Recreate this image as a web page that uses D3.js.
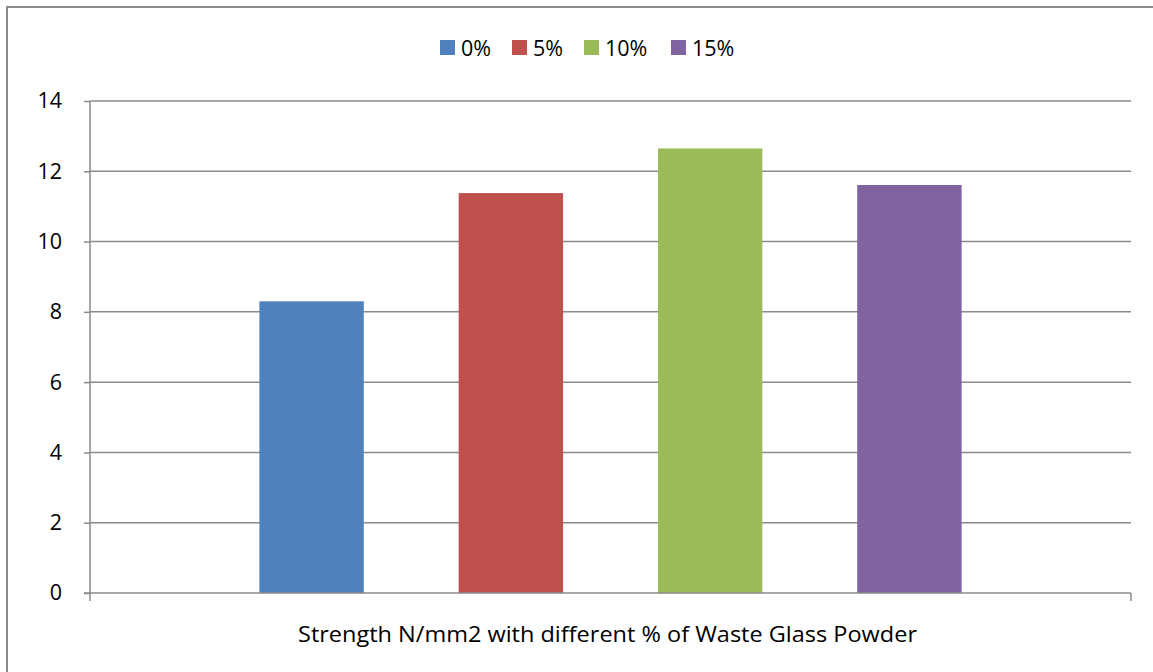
<!DOCTYPE html>
<html lang="en">
<head>
    <meta charset="UTF-8">
    <title>Strength with Waste Glass Powder</title>
    <script src="https://cdnjs.cloudflare.com/ajax/libs/d3/7.8.5/d3.min.js"></script>
    <style>
        body { margin: 0; background: #fff; }
        svg { display: block; font-family: "Open Sans", Lato, sans-serif; }
    </style>
</head>
<body>
<svg width="1153" height="672"></svg>
<script>
    // chart data
    const category = "Strength N/mm2 with different % of Waste Glass Powder";
    const series = ["0%", "5%", "10%", "15%"];
    const values = [8.3, 11.38, 12.65, 11.61];
    const colors = ["#4F81BD", "#C0504D", "#9BBB59", "#8064A2"];
    const yTicks = [0, 2, 4, 6, 8, 10, 12, 14];

    const svg = d3.select("svg");
    const plotLeft = 90, plotRight = 1131, plotTop = 101, plotBottom = 593;
    const fontSize = 21.5;

    // outer chart border (right/bottom edges fall outside the picture)
    svg.append("rect")
        .attr("x", 7).attr("y", 7)
        .attr("width", 1160).attr("height", 700)
        .attr("fill", "none")
        .attr("stroke", "#8c8c8c")
        .attr("stroke-width", 2);

    const y = d3.scaleLinear().domain([0, 14]).range([plotBottom, plotTop]);
    const x = d3.scaleBand().domain(series).range([plotLeft, plotRight])
        .paddingInner(0.476).paddingOuter(0.85);

    // gridlines
    svg.append("g")
        .selectAll("line")
        .data(yTicks.filter(d => d > 0))
        .join("line")
        .attr("x1", plotLeft).attr("x2", plotRight)
        .attr("y1", d => y(d)).attr("y2", d => y(d))
        .attr("stroke", "#8a8a8a")
        .attr("stroke-width", 1.5);

    // bars
    svg.append("g")
        .selectAll("rect")
        .data(series)
        .join("rect")
        .attr("x", d => x(d))
        .attr("width", x.bandwidth())
        .attr("y", (d, i) => y(values[i]))
        .attr("height", (d, i) => y(0) - y(values[i]))
        .attr("fill", (d, i) => colors[i]);

    // y axis
    const yAxis = svg.append("g")
        .attr("transform", `translate(${plotLeft},0)`)
        .call(d3.axisLeft(y).tickValues(yTicks).tickSize(6).tickPadding(10));
    yAxis.selectAll("line, path").attr("stroke", "#8a8a8a").attr("stroke-width", 1.5);
    yAxis.select("path").attr("d", `M0,${plotTop}V${plotBottom}`);
    yAxis.selectAll("text")
        .attr("font-size", fontSize)
        .attr("fill", "#000")
        .style("font-family", "'Open Sans', Lato, sans-serif")
        .attr("x", -28);

    // x axis baseline with end ticks
    const xAxis = svg.append("g");
    xAxis.append("line")
        .attr("x1", plotLeft - 6).attr("x2", plotRight)
        .attr("y1", y(0)).attr("y2", y(0))
        .attr("stroke", "#8a8a8a").attr("stroke-width", 1.5);
    xAxis.selectAll(".edge")
        .data([plotLeft, plotRight])
        .join("line")
        .attr("x1", d => d).attr("x2", d => d)
        .attr("y1", y(0)).attr("y2", y(0) + 8)
        .attr("stroke", "#8a8a8a").attr("stroke-width", 1.5);
    xAxis.append("text")
        .attr("x", 298)
        .attr("y", 642)
        .attr("font-size", fontSize)
        .attr("textLength", 619)
        .attr("lengthAdjust", "spacingAndGlyphs")
        .text(category);

    // legend
    const legendX = [440, 512, 584, 671];
    const legend = svg.append("g")
        .selectAll("g")
        .data(series)
        .join("g")
        .attr("transform", (d, i) => `translate(${legendX[i]},40)`);
    legend.append("rect")
        .attr("width", 15).attr("height", 15)
        .attr("fill", (d, i) => colors[i]);
    legend.append("text")
        .attr("x", 21).attr("y", 15.5)
        .attr("font-size", fontSize)
        .text(d => d);
</script>
</body>
</html>
